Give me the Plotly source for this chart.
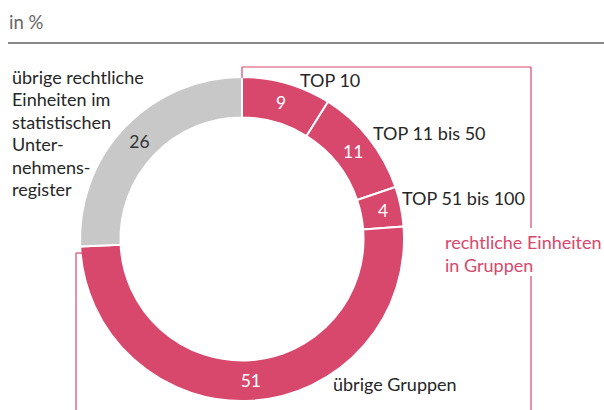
import plotly.graph_objects as go

categories = ["TOP 10", "TOP 11 bis 50", "TOP 51 bis 100", "übrige Gruppen",
              "übrige rechtliche Einheiten im statistischen Unternehmensregister"]
values = [9, 11, 4, 51, 26]
colors = ["#d8476c", "#d8476c", "#d8476c", "#d8476c", "#c8c8c8"]
value_colors = ["white", "white", "white", "white", "#333333"]

PINK = "#d8476c"
FONT = "Lato"
FS = 18

W, H = 604, 410
cx, cy, R = 242, 239, 162

fig = go.Figure()
fig.add_trace(go.Pie(
    labels=categories, values=values, sort=False, direction="clockwise", rotation=0,
    hole=0.75,
    marker=dict(colors=colors, line=dict(color="white", width=2)),
    textinfo="value", textposition="inside", insidetextorientation="horizontal",
    textfont=dict(family=FONT, size=17.5, color=value_colors),
    showlegend=False, hoverinfo="label+value",
    domain=dict(x=[(cx - R) / W, (cx + R) / W], y=[(H - cy - R) / H, (H - cy + R) / H]),
))

def px(x):
    return x / W

def py(y):
    return 1 - y / H

shapes = []
shapes.append(dict(type="line", xref="paper", yref="paper", x0=px(8), x1=px(604), y0=py(43), y1=py(43),
                   line=dict(color="#8a8a8a", width=2)))
bl = dict(color=PINK, width=1.2)
for (x0, y0, x1, y1) in [(242, 67, 531, 67), (242, 67, 242, 78), (531, 67, 531, 228),
                         (531, 276, 531, 410), (76, 253, 84, 253), (76, 253, 76, 410)]:
    shapes.append(dict(type="line", xref="paper", yref="paper", x0=px(x0), x1=px(x1), y0=py(y0), y1=py(y1), line=bl))

annotations = []
def txt(s, x, y, color="#262626", size=FS, xanchor="left"):
    annotations.append(dict(text=s, x=px(x), y=py(y), xref="paper", yref="paper", showarrow=False,
                            xanchor=xanchor, yanchor="middle", align="left",
                            font=dict(family=FONT, size=size, color=color)))

txt("in %", 7, 22, color="#666666", size=18.5)
txt("TOP 10", 298, 80)
txt("TOP 11 bis 50", 371, 133)
txt("TOP 51 bis 100", 400, 198)
txt("übrige Gruppen", 331, 384)
for i, line in enumerate(["übrige rechtliche", "Einheiten im", "statistischen", "Unter-", "nehmens-", "register"]):
    txt(line, 10, 77 + i * 22.4)
txt("rechtliche Einheiten", 443, 242, color=PINK)
txt("in Gruppen", 443, 265, color=PINK)

fig.update_layout(width=W, height=H, margin=dict(l=0, r=0, t=0, b=0),
                  paper_bgcolor="white", plot_bgcolor="white",
                  shapes=shapes, annotations=annotations)
fig.write_html("out.html", config={"displayModeBar": False},
               post_script="document.body.style.margin='0';document.body.style.overflow='hidden';")
